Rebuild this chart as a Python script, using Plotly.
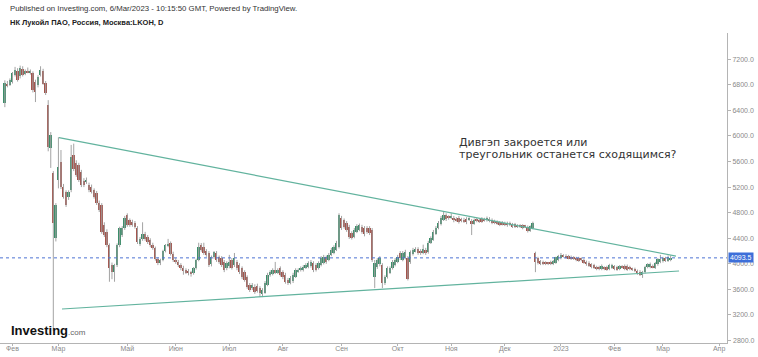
import plotly.graph_objects as go

# ---------------- data ----------------
# bar index: 0 = first trading day of Feb 2022 (TradingView bar axis, no gaps)
first_bar = -3

open_ = [
    6510, 6820, 6800, 6850, 6960, 7020, 6930, 7050, 6980, 7020, 7000, 6990, 6840, 6790, 6950, 7010, 6830, 6480, 5810, 5420, 4400,
    5310, 5590, 5200, 5120, 5050, 5150, 5700, 5570, 5540, 5430,
    5300, 5280, 5230, 5200, 5150, 5110, 4950, 4920, 4610, 4500,
    4290, 3980, 3870, 3980, 4290, 4450, 4560, 4760, 4680, 4660,
    4640, 4560, 4310, 4390, 4470, 4420, 4370, 4300, 4250, 4080,
    4010, 4060, 4200, 4290, 4320, 4160, 4060, 4030, 3980, 3940,
    3900, 3890, 3860, 3850, 3930, 4060,
    4290, 4260, 4200, 4170, 3990, 4110, 4170, 4100, 4090, 4030,
    3930, 3960, 4060, 3980, 4030, 3980, 3930, 3870, 3790, 3670,
    3620, 3640, 3660, 3620, 3530, 3550, 3670, 3830, 3840, 3900,
    3860, 3930, 3870, 3830, 3750, 3700, 3730, 3800, 3880, 3910,
    3900, 3940, 3950, 3960, 4010, 3980, 3930, 3980, 4010, 4100,
    4060, 4140, 4170, 4220, 4260,
    4720, 4680, 4640, 4580, 4480, 4420, 4500, 4530, 4580, 4560,
    4560, 4560, 4530, 3800, 3950, 3990, 3980, 3700, 3790, 3860,
    3930, 3980, 4030, 4170, 4060, 4090, 4090, 4030, 4150, 4200,
    4230, 4200, 4170, 4220, 4180, 4330, 4380, 4470, 4560, 4620,
    4690, 4760, 4730, 4720, 4720, 4700, 4720, 4690, 4690, 4700,
    4690, 4670, 4630, 4690, 4680, 4700, 4690, 4680, 4700, 4680,
    4660, 4660, 4650, 4650, 4640, 4640, 4640, 4620, 4620, 4600,
    4600, 4600, 4590, 4580, 4520, 4560,
    4170, 4090, 4040, 4030, 4020, 4010, 4030, 4000, 4020, 4060,
    4090, 4130, 4130, 4120, 4110, 4100, 4090, 4090, 4080, 4060,
    4030, 4020, 3990, 3980, 3950, 3950, 3920, 3940, 3950, 3920,
    3940, 3960, 3950, 3920, 3960, 3970, 3970, 3950, 3920, 3920,
    3890, 3880, 3830, 3870, 3950, 3950, 3970, 3940, 3990, 4030,
    4040, 4090, 4050, 4060,
]

high = [
    6870, 6860, 6900, 7000, 7080, 7060, 7100, 7090, 7040, 7070, 7040, 7010, 6880, 6950, 7090, 7050, 6860, 6560, 6060, 5450, 4950,
    5980, 5780, 5250, 5150, 5150, 5860, 5880, 5620, 5580, 5470,
    5340, 5350, 5270, 5240, 5180, 5140, 4990, 4950, 4650, 4540,
    4320, 4020, 4000, 4320, 4580, 4590, 4750, 4790, 4710, 4690,
    4670, 4590, 4420, 4650, 4500, 4450, 4400, 4330, 4270, 4100,
    4080, 4220, 4310, 4390, 4350, 4190, 4090, 4060, 4010, 3970,
    3930, 3920, 3890, 3950, 4080, 4330,
    4325, 4330, 4230, 4200, 4130, 4200, 4200, 4130, 4120, 4060,
    4040, 4140, 4090, 4170, 4060, 4010, 3960, 3900, 3820, 3700,
    3700, 3680, 3690, 3650, 3620, 3730, 3860, 3900, 3930, 4030,
    3930, 3960, 3900, 3860, 3780, 3810, 3860, 3930, 3930, 3960,
    3980, 4010, 4040, 4060, 4040, 4010, 4040, 4120, 4140, 4130,
    4170, 4250, 4290, 4360, 4790,
    4750, 4710, 4670, 4610, 4510, 4560, 4620, 4630, 4610, 4590,
    4590, 4590, 4560, 4060, 4090, 4120, 4010, 3820, 3960, 3960,
    4060, 4090, 4140, 4200, 4200, 4220, 4120, 4210, 4250, 4260,
    4260, 4230, 4300, 4250, 4360, 4430, 4530, 4590, 4670, 4750,
    4810, 4790, 4760, 4790, 4750, 4730, 4750, 4720, 4720, 4730,
    4730, 4700, 4710, 4720, 4710, 4730, 4720, 4740, 4730, 4710,
    4690, 4680, 4670, 4670, 4660, 4660, 4660, 4640, 4640, 4620,
    4620, 4620, 4610, 4600, 4600, 4660,
    4190, 4110, 4060, 4050, 4040, 4030, 4050, 4060, 4110, 4140,
    4170, 4150, 4150, 4140, 4130, 4120, 4110, 4110, 4100, 4080,
    4050, 4040, 4010, 4000, 3970, 3970, 3990, 3960, 3970, 4000,
    4000, 3980, 3970, 3980, 3980, 3990, 3990, 3970, 3940, 3940,
    3910, 3900, 3890, 3970, 4010, 4020, 3990, 4030, 4090, 4140,
    4110, 4110, 4130, 4130,
]

low = [
    6450, 6760, 6780, 6820, 6930, 6850, 6900, 6930, 6950, 6980, 6960, 6680, 6530, 6760, 6930, 6800, 6640, 5760, 5500, 2951, 4350,
    5180, 5170, 5020, 4890, 5000, 5120, 5450, 5360, 5280, 5200,
    5200, 5250, 5120, 5100, 5020, 4920, 4810, 4470, 4420, 4260,
    3720, 3760, 3720, 3950, 4260, 4420, 4530, 4580, 4580, 4580,
    4550, 4310, 4280, 4360, 4360, 4310, 4260, 4220, 4050, 3980,
    3980, 4040, 4180, 4260, 4130, 4030, 4000, 3950, 3900, 3830,
    3840, 3820, 3800, 3830, 3910, 4040,
    4190, 4140, 4110, 3950, 3960, 4080, 4030, 4000, 3950, 3870,
    3900, 3930, 3910, 3950, 3900, 3840, 3760, 3720, 3610, 3560,
    3590, 3530, 3550, 3480, 3480, 3530, 3650, 3800, 3820, 3840,
    3840, 3800, 3760, 3690, 3670, 3680, 3700, 3780, 3860, 3880,
    3880, 3920, 3930, 3940, 3870, 3880, 3910, 3960, 3990, 4000,
    4040, 4120, 4150, 4200, 4240,
    4530, 4550, 4500, 4390, 4380, 4400, 4480, 4510, 4470, 4430,
    4470, 4450, 4030, 3620, 3920, 3960, 3620, 3670, 3770, 3840,
    3910, 3960, 4010, 4060, 4040, 4070, 3740, 4000, 4130, 4180,
    4140, 4140, 4150, 4140, 4160, 4310, 4360, 4450, 4540, 4600,
    4670, 4670, 4690, 4700, 4650, 4660, 4630, 4650, 4640, 4620,
    4670, 4450, 4610, 4650, 4640, 4640, 4660, 4660, 4650, 4620,
    4620, 4610, 4590, 4600, 4590, 4580, 4590, 4560, 4560, 4560,
    4560, 4540, 4560, 4490, 4500, 4540,
    3870, 3990, 3980, 3980, 3980, 3980, 3980, 3980, 4000, 4040,
    4070, 4100, 4080, 4070, 4060, 4060, 4040, 4030, 4040, 4000,
    3970, 3950, 3930, 3920, 3900, 3900, 3900, 3900, 3890, 3900,
    3920, 3900, 3890, 3900, 3930, 3900, 3890, 3900, 3890, 3870,
    3830, 3810, 3780, 3850, 3930, 3930, 3930, 3920, 3970, 4010,
    4020, 4030, 4030, 4040,
]

close = [
    6825, 6790, 6870, 6980, 7030, 6880, 7060, 6950, 7010, 7000, 7010, 6720, 6690, 6920, 7030, 6820, 6670, 5825, 6010, 4640, 4920,
    5510, 5200, 5050, 4920, 5120, 5670, 5480, 5390, 5310, 5230,
    5230, 5310, 5150, 5130, 5050, 4950, 4840, 4500, 4450, 4290,
    3930, 3870, 3980, 4290, 4560, 4560, 4720, 4610, 4610, 4610,
    4580, 4340, 4390, 4470, 4390, 4340, 4290, 4250, 4080, 4010,
    4060, 4200, 4290, 4310, 4160, 4060, 4030, 3980, 3930, 3890,
    3870, 3850, 3850, 3930, 4060, 4260,
    4220, 4170, 4140, 3980, 4110, 4180, 4060, 4030, 3980, 3900,
    4010, 4030, 3940, 4090, 3930, 3870, 3790, 3750, 3640, 3590,
    3670, 3560, 3580, 3540, 3590, 3700, 3830, 3870, 3900, 3860,
    3900, 3830, 3790, 3720, 3700, 3780, 3830, 3900, 3900, 3930,
    3950, 3980, 4010, 4030, 3900, 3910, 4010, 4090, 4110, 4030,
    4140, 4220, 4260, 4330, 4760,
    4560, 4580, 4530, 4420, 4410, 4530, 4590, 4600, 4500, 4460,
    4500, 4480, 4060, 4010, 4060, 4090, 3700, 3790, 3930, 3930,
    4030, 4060, 4110, 4090, 4170, 4180, 3760, 4180, 4220, 4230,
    4170, 4170, 4230, 4170, 4330, 4400, 4500, 4560, 4640, 4720,
    4760, 4700, 4720, 4740, 4680, 4680, 4660, 4670, 4660, 4650,
    4700, 4630, 4680, 4670, 4660, 4660, 4680, 4720, 4670, 4640,
    4640, 4630, 4610, 4620, 4610, 4600, 4610, 4580, 4580, 4580,
    4580, 4560, 4580, 4510, 4590, 4640,
    4030, 4010, 4000, 4000, 4000, 4000, 4000, 4040, 4100, 4120,
    4140, 4120, 4100, 4090, 4080, 4080, 4060, 4050, 4060, 4020,
    3990, 3970, 3950, 3940, 3920, 3920, 3970, 3920, 3910, 3980,
    3980, 3920, 3910, 3960, 3950, 3920, 3910, 3920, 3910, 3890,
    3850, 3830, 3870, 3950, 3990, 4000, 3950, 4010, 4070, 4080,
    4090, 4050, 4110, 4093.5,
]

month_tick_bars = [0, 18, 45, 64, 85, 106, 129, 151, 172, 193, 215, 236, 255, 277]
month_labels = ["Фев", "Мар", "Май", "Июн", "Июл", "Авг", "Сен", "Окт", "Ноя", "Дек",
                "2023", "Фев", "Мар", "Апр"]
price_ticks = [2800, 3200, 3600, 4000, 4400, 4800, 5200, 5600, 6000, 6400, 6800, 7200]
last_price = 4093.5

# triangle drawn on the chart (bar index, price)
upper_line_bars = [18.2, 260.1]
upper_line_prices = [5973, 4122]
lower_line_bars = [19.4, 261.3]
lower_line_prices = [3294, 3888]

# ---------------- figure ----------------
bars = list(range(first_bar, first_bar + len(close)))
UP = "#3b8e6a"
DOWN = "#a4544c"
WICK = "#a3a3a3"
TEAL = "#62b39e"
FONT = "Liberation Sans, Arial, sans-serif"
AXIS_TEXT = "#8a8a8a"
MIN_BODY = 14  # about one pixel, so that doji bodies stay visible

wick_x, wick_y = [], []
for b, h, l in zip(bars, high, low):
    wick_x += [b, b, None]
    wick_y += [l, h, None]

body_base = [min(o, c) for o, c in zip(open_, close)]
body_size = [max(abs(c - o), MIN_BODY) for o, c in zip(open_, close)]
body_color = [UP if c >= o else DOWN for o, c in zip(open_, close)]

fig = go.Figure()
fig.add_trace(go.Scatter(x=wick_x, y=wick_y, mode="lines",
                         line=dict(color=WICK, width=1), hoverinfo="skip", showlegend=False))
fig.add_trace(go.Bar(x=bars, y=body_size, base=body_base, width=0.72,
                     marker=dict(color=body_color, line=dict(width=0)), showlegend=False))

fig.add_trace(go.Scatter(x=upper_line_bars, y=upper_line_prices, mode="lines",
                         line=dict(color=TEAL, width=1.2), showlegend=False))
fig.add_trace(go.Scatter(x=lower_line_bars, y=lower_line_prices, mode="lines",
                         line=dict(color=TEAL, width=1.2), showlegend=False))

fig.add_shape(type="line", xref="paper", x0=0, x1=1, yref="y", y0=last_price, y1=last_price,
              line=dict(color="#4d73d3", width=1, dash="dot"))

PLOT_TOP, PLOT_BOTTOM = 33, 343
PLOT_H = PLOT_BOTTOM - PLOT_TOP
Y_RANGE = [2762, 7610]

# plotly drops an edge label that sticks out of the plot; the lowest one is written by hand below
shown_ticks = [p for p in price_ticks if p > price_ticks[0]]

fig.update_layout(
    width=758, height=357,
    margin=dict(l=0, r=31, t=PLOT_TOP, b=357 - PLOT_BOTTOM, autoexpand=False),
    paper_bgcolor="white", plot_bgcolor="white",
    font=dict(family=FONT, color="#333333"),
    bargap=0,
    xaxis=dict(range=[-4.9, 280.1], tickmode="array", tickvals=month_tick_bars, ticktext=month_labels,
               showgrid=False, zeroline=False, showline=True, linecolor="#b4b4b4", linewidth=1,
               ticks="outside", ticklen=2, tickcolor="#b4b4b4", automargin=False,
               ticklabelstandoff=-3,
               tickfont=dict(size=7, color=AXIS_TEXT, family=FONT)),
    yaxis=dict(range=Y_RANGE, side="right", tickmode="array", tickvals=price_ticks,
               ticktext=[f"{p:.1f}" if p in shown_ticks else "" for p in price_ticks],
               showgrid=False, zeroline=False, showline=True, linecolor="#b4b4b4", linewidth=1,
               ticks="outside", ticklen=3, tickcolor="#b4b4b4", automargin=False,
               tickfont=dict(size=7, color=AXIS_TEXT, family=FONT)),
)

fig.add_annotation(xref="paper", yref="y", x=1, y=price_ticks[0], xanchor="left", yanchor="middle",
                   xshift=4, text=f"{price_ticks[0]:.1f}", showarrow=False,
                   font=dict(size=7, color=AXIS_TEXT, family=FONT))

fig.add_annotation(xref="paper", yref="y", x=1, y=last_price, xanchor="left", yanchor="middle",
                   xshift=1, text="4093.5", showarrow=False, bgcolor="#3d6fd9",
                   font=dict(size=7, color="white", family=FONT), borderpad=1)


def py(pixel_y):
    """paper y for a pixel row of the 758x357 picture"""
    return (PLOT_BOTTOM - pixel_y) / PLOT_H


fig.add_annotation(xref="paper", yref="paper", x=8 / 727, y=py(8), xanchor="left", yanchor="middle",
                   text="Published on Investing.com, 6/Mar/2023 - 10:15:50 GMT, Powered by TradingView.",
                   showarrow=False, font=dict(size=7.8, color="#333333", family=FONT))
fig.add_annotation(xref="paper", yref="paper", x=8 / 727, y=py(22), xanchor="left", yanchor="middle",
                   text="<b>НК Лукойл ПАО, Россия, Москва:LKOH, D</b>",
                   showarrow=False, font=dict(size=7.5, color="#222222", family=FONT))

note_lines = ["Дивгэп закроется или", "треугольник останется сходящимся?"]
for k, line in enumerate(note_lines):
    fig.add_annotation(xref="paper", yref="paper", x=457 / 727, y=py(142 + 12.5 * k),
                       xanchor="left", yanchor="middle", align="left", text=line,
                       showarrow=False, font=dict(size=11, color="#333333", family="DejaVu Sans"))

fig.add_annotation(xref="paper", yref="paper", x=9 / 727, y=py(330), xanchor="left", yanchor="middle",
                   text="<b>Investing</b><span style='font-size:8px;color:#666'>.com</span>",
                   showarrow=False, font=dict(size=13, color="#111111", family=FONT))

fig.write_html("out.html", config={"displayModeBar": False},
               post_script="document.body.style.margin='0';document.body.style.overflow='hidden';")
